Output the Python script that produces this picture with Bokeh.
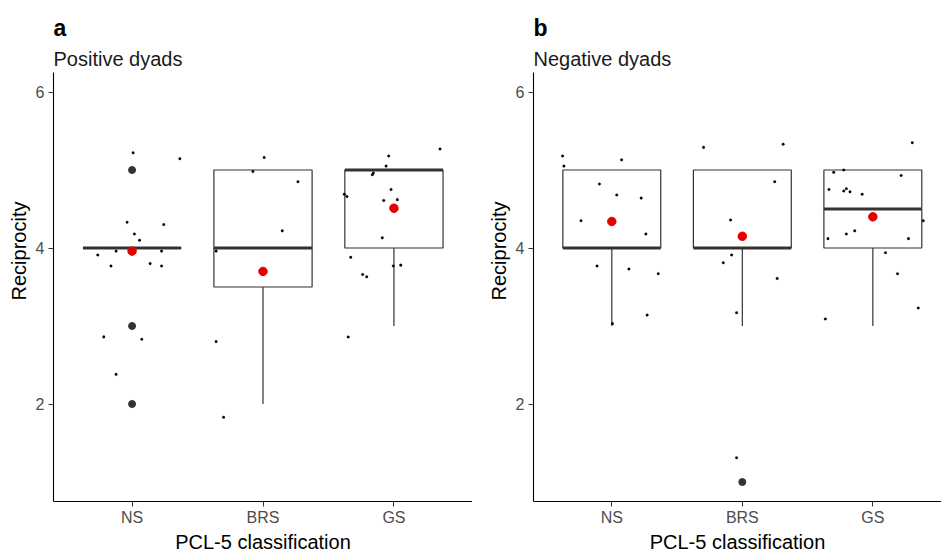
from bokeh.plotting import figure
from bokeh.layouts import row
from bokeh.models import FixedTicker, Range1d
from bokeh.core.properties import value
from bokeh.embed import file_html
from bokeh.resources import INLINE

categories = ["NS", "BRS", "GS"]
y_ticks = [2, 4, 6]

# ---- Panel a: Positive dyads (jittered observations: value, horizontal jitter) ----
a_ns_y = [5.22, 5.145, 4.33, 4.30, 4.18, 4.10, 3.96, 3.96, 3.91, 3.77, 3.80, 3.77, 2.86, 2.83, 2.38]
a_ns_dx = [0.008, 0.365, -0.038, 0.242, 0.018, 0.057, -0.122, 0.225, -0.262, -0.161, 0.138, 0.225, -0.216, 0.074, -0.122]
a_brs_y = [5.16, 4.98, 4.85, 4.22, 3.96, 2.80, 1.83]
a_brs_dx = [0.009, -0.077, 0.267, 0.147, -0.358, -0.358, -0.301]
a_gs_y = [5.27, 5.18, 5.05, 4.96, 4.94, 4.75, 4.69, 4.66, 4.61, 4.62, 4.13, 3.88, 3.77, 3.78, 3.66, 3.63, 2.86]
a_gs_dx = [0.352, -0.040, -0.060, -0.157, -0.165, -0.022, -0.379, -0.359, -0.078, 0.026, -0.089, -0.330, -0.005, 0.052, -0.239, -0.208, -0.349]
a_q1 = [4, 3.5, 4]
a_med = [4, 4, 5]
a_q3 = [4, 5, 5]
a_lo = [4, 2, 3]
a_hi = [4, 5, 5]
a_mean = [3.96, 3.70, 4.51]
a_out_cat = ["NS", "NS", "NS"]
a_out_y = [5, 3, 2]

# ---- Panel b: Negative dyads ----
b_ns_y = [5.18, 5.13, 5.05, 4.82, 4.68, 4.64, 4.35, 4.18, 3.77, 3.73, 3.67, 3.14, 3.03]
b_ns_dx = [-0.377, 0.075, -0.367, -0.095, 0.038, 0.225, -0.236, 0.261, -0.113, 0.131, 0.356, 0.271, 0.005]
b_brs_y = [5.29, 5.33, 4.85, 4.36, 3.91, 3.81, 3.61, 3.17, 1.31]
b_brs_dx = [-0.297, 0.313, 0.248, -0.090, -0.082, -0.146, 0.267, -0.044, -0.044]
b_gs_y = [5.35, 5.00, 4.97, 4.93, 4.75, 4.76, 4.73, 4.72, 4.69, 4.35, 4.22, 4.18, 4.12, 4.12, 3.94, 3.67, 3.23, 3.09]
b_gs_dx = [0.302, -0.223, -0.300, 0.217, -0.336, -0.203, -0.223, -0.175, -0.082, 0.386, -0.139, -0.203, -0.344, 0.273, 0.097, 0.189, 0.348, -0.364]
b_q1 = [4, 4, 4]
b_med = [4, 4, 4.5]
b_q3 = [5, 5, 5]
b_lo = [3, 3, 3]
b_hi = [5, 5, 5]
b_mean = [4.34, 4.15, 4.40]
b_out_cat = ["BRS"]
b_out_y = [1]

FONT = "Liberation Sans"
BOX_W = 0.75
Y_LO, Y_HI = 0.75, 6.25          # panel limits
PX_PER_UNIT = 78.0
FRAME_BOTTOM = 501               # pixel row of the x axis
Y_TOP = Y_LO + FRAME_BOTTOM / PX_PER_UNIT   # frame stretched to canvas top for titles


def make_panel(tag, subtitle, jit, q1, med, q3, lo, hi, mean, out_cat, out_y,
               width, border_left, x_end):
    p = figure(width=width, height=559, output_backend="svg", toolbar_location=None,
               x_range=Range1d(0.4, x_end), y_range=Range1d(Y_LO, Y_TOP),
               min_border_left=border_left, min_border_right=0,
               min_border_top=0, min_border_bottom=559 - FRAME_BOTTOM)
    p.outline_line_color = None
    p.grid.visible = False
    p.background_fill_color = "white"
    p.border_fill_color = "white"

    pos = [categories.index(c) + 1 for c in categories]
    left = [x - BOX_W / 2 for x in pos]
    right = [x + BOX_W / 2 for x in pos]

    # whiskers
    p.segment(x0=pos, x1=pos, y0=q3, y1=hi, line_color="#333333", line_width=1.2)
    p.segment(x0=pos, x1=pos, y0=q1, y1=lo, line_color="#333333", line_width=1.2)
    # boxes
    p.quad(left=left, right=right, bottom=q1, top=q3, fill_color="white",
           line_color="#333333", line_width=1.2)
    # medians
    p.segment(x0=left, x1=right, y0=med, y1=med, line_color="#333333", line_width=3.2)
    # outliers
    ox = [categories.index(c) + 1 for c in out_cat]
    p.scatter(ox, out_y, size=7, fill_color="#333333", line_color="#333333")

    # jittered points
    xs, ys = [], []
    for i, (yv, dx) in enumerate(jit):
        xs += [i + 1 + d for d in dx]
        ys += yv
    p.scatter(xs, ys, size=2.6, fill_color="black", line_color="black", line_width=0.3)

    # means
    p.scatter(pos, mean, size=8.5, fill_color="#E50000", line_color="#E50000")

    # axes
    for ax in (p.xaxis[0], p.yaxis[0]):
        ax.axis_line_color = "black"
        ax.axis_line_width = 1.1
        ax.major_tick_line_color = "#333333"
        ax.major_tick_out = 5
        ax.major_tick_in = 0
        ax.minor_tick_line_color = None
        ax.major_label_text_font = FONT
        ax.major_label_text_font_size = "16px"
        ax.major_label_text_color = "#4D4D4D"
        ax.axis_label_text_font = FONT
        ax.axis_label_text_font_size = "20px"
        ax.axis_label_text_font_style = "normal"
        ax.axis_label_text_color = "black"
    p.yaxis.bounds = (Y_LO, Y_HI)
    p.xaxis.ticker = FixedTicker(ticks=pos)
    p.xaxis.major_label_overrides = {x: c for x, c in zip(pos, categories)}
    p.xaxis.axis_label = "PCL-5 classification"
    p.xaxis.major_label_standoff = 2
    p.xaxis.axis_label_standoff = 2
    p.yaxis.ticker = FixedTicker(ticks=y_ticks)
    p.yaxis.axis_label = "Reciprocity"
    p.yaxis.major_label_standoff = 4
    p.yaxis.axis_label_standoff = 3

    # tag and subtitle, placed above the panel limits
    tag_y = Y_HI + (72 - 27.7) / PX_PER_UNIT
    sub_y = Y_HI + (72 - 58.3) / PX_PER_UNIT
    p.text(x=[0.4], y=[tag_y], text=[tag], text_font=value(FONT), text_font_size="23px",
           text_font_style="bold", text_color="black", text_baseline="alphabetic",
           text_align="left")
    p.text(x=[0.4], y=[sub_y], text=[subtitle], text_font=value(FONT), text_font_size="20px",
           text_color="#1A1A1A", text_baseline="alphabetic", text_align="left")
    return p


pa = make_panel("a", "Positive dyads",
                [(a_ns_y, a_ns_dx), (a_brs_y, a_brs_dx), (a_gs_y, a_gs_dx)],
                a_q1, a_med, a_q3, a_lo, a_hi, a_mean, a_out_cat, a_out_y,
                width=472, border_left=53, x_end=3.6)
pb = make_panel("b", "Negative dyads",
                [(b_ns_y, b_ns_dx), (b_brs_y, b_brs_dx), (b_gs_y, b_gs_dx)],
                b_q1, b_med, b_q3, b_lo, b_hi, b_mean, b_out_cat, b_out_y,
                width=469, border_left=61, x_end=3.526)

layout = row(pa, pb)
open("out.html", "w").write(file_html(layout, INLINE))
